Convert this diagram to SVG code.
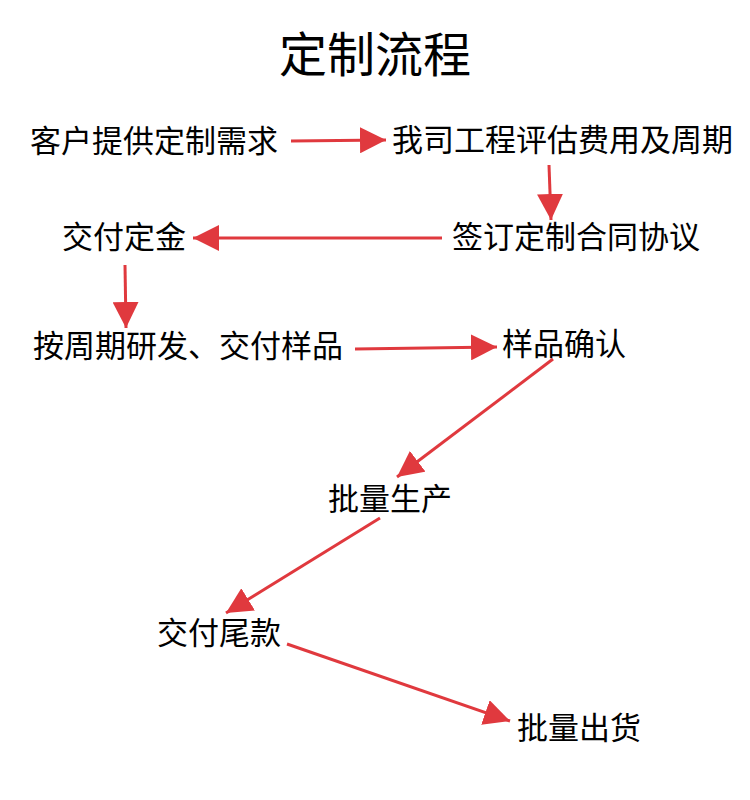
<svg xmlns="http://www.w3.org/2000/svg" width="750" height="800" viewBox="0 0 750 800">
<style>
text{font-family:"Noto Sans CJK SC","Noto Sans CJK JP",sans-serif;fill:#000}
.t{font-size:31px}
.h{font-size:48px}
.c line{stroke:#e0393e;stroke-width:3;marker-end:url(#ah)}
</style>
<defs>
<marker id="ah" markerUnits="userSpaceOnUse" markerWidth="26" markerHeight="26" refX="24" refY="12" orient="auto" viewBox="0 0 24 24">
<path d="M0,0 L24,12 L0,24 Z" fill="#e0393e"/>
</marker>
</defs>
<rect width="750" height="800" fill="#fff"/>
<text class="h" x="375" y="72" text-anchor="middle">定制流程</text>
<g id="n1"><text class="t" x="30" y="152">客户提供定制需求</text></g>
<g id="n2"><text class="t" x="392" y="151">我司工程评估费用及周期</text></g>
<g id="n3"><text class="t" x="452" y="248">签订定制合同协议</text></g>
<g id="n4"><text class="t" x="62" y="248">交付定金</text></g>
<g id="n5"><text class="t" x="33" y="357">按周期研发、交付样品</text></g>
<g id="n6"><text class="t" x="502" y="355">样品确认</text></g>
<g id="n7"><text class="t" x="328" y="510">批量生产</text></g>
<g id="n8"><text class="t" x="157" y="644">交付尾款</text></g>
<g id="n9"><text class="t" x="517" y="739">批量出货</text></g>
<g class="c">
<line x1="291" y1="141" x2="386" y2="140"/>
<line x1="549" y1="165" x2="551" y2="220"/>
<line x1="442" y1="238" x2="193" y2="238"/>
<line x1="125" y1="265" x2="126" y2="328"/>
<line x1="355" y1="349" x2="497" y2="347"/>
<line x1="553" y1="359" x2="397" y2="477"/>
<line x1="380" y1="518" x2="226" y2="613"/>
<line x1="287" y1="644" x2="510" y2="721"/>
</g>
</svg>
